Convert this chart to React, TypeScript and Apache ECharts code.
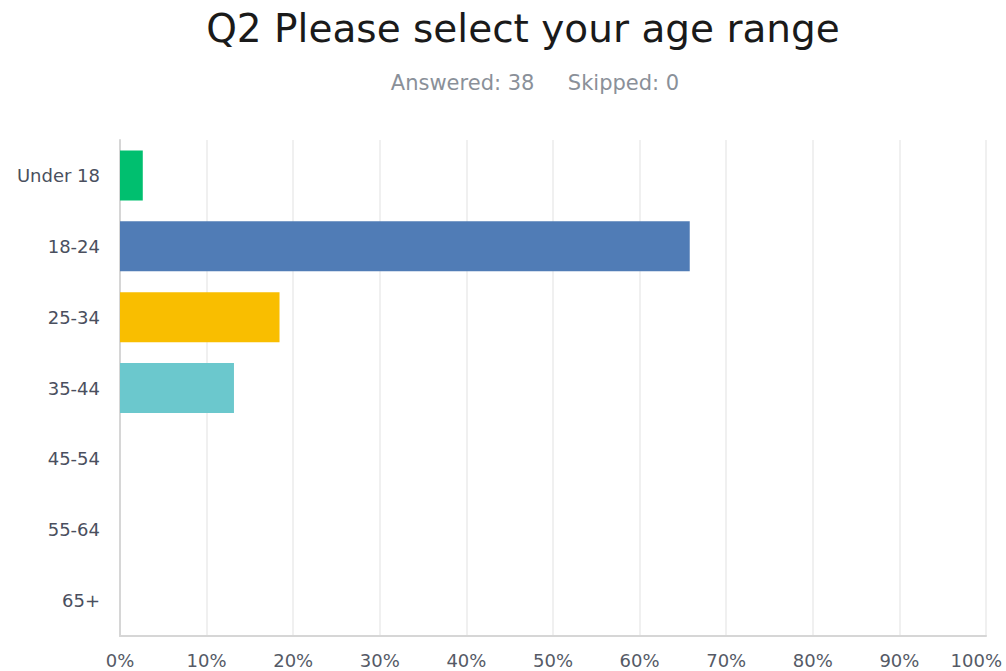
import React, { useEffect, useRef } from "react";
import * as echarts from "echarts";

const categories = ["Under 18", "18-24", "25-34", "35-44", "45-54", "55-64", "65+"];
const percentages = [2.63, 65.79, 18.42, 13.16, 0, 0, 0];
const barColors = ["#00bf6f", "#507cb6", "#f9be00", "#6bc8cd", "#d25f90", "#dbcd6e", "#a2a6ac"];
const titleText = "Q2 Please select your age range";
const subText = "Answered: 38     Skipped: 0";

export default function App() {
  const ref = useRef<HTMLDivElement>(null);
  useEffect(() => {
    if (!ref.current) return;
    const chart = echarts.init(ref.current, undefined, { renderer: "svg" });
    chart.setOption({
      animation: false,
      backgroundColor: "#ffffff",
      title: [
        {
          text: titleText,
          left: 518,
          textAlign: "center",
          top: 4,
          textStyle: { fontFamily: "DejaVu Sans, sans-serif", fontSize: 39, fontWeight: "normal", color: "#1a1a1a" },
        },
        {
          text: subText,
          left: 530,
          textAlign: "center",
          top: 67,
          textStyle: { fontFamily: "DejaVu Sans, sans-serif", fontSize: 21, fontWeight: "normal", color: "#8a9099" },
        },
      ],
      grid: { left: 120, right: 20, top: 140, bottom: 35, containLabel: false, outerBoundsMode: "none" },
      xAxis: {
        type: "value",
        min: 0,
        max: 100,
        interval: 10,
        axisLine: { show: true, lineStyle: { color: "#d6d6d6", width: 2 } },
        axisTick: { show: false },
        splitLine: { show: true, lineStyle: { color: "#ebebeb", width: 1.5 } },
        axisLabel: {
          formatter: (v: number) => (v === 100 ? "{m|" + v + "%}" : v + "%"),
          alignMaxLabel: "right",
          margin: 15,
          color: "#555a66",
          fontSize: 18,
          fontFamily: "DejaVu Sans, sans-serif",
          rich: {
            m: { padding: [0, -16, 0, 0], color: "#555a66", fontSize: 18, fontFamily: "DejaVu Sans, sans-serif" },
          },
        },
      },
      yAxis: {
        type: "category",
        data: categories,
        inverse: true,
        axisLine: { show: true, lineStyle: { color: "#d6d6d6", width: 2 } },
        axisTick: { show: false },
        axisLabel: {
          margin: 20,
          color: "#4a4f5e",
          fontSize: 18,
          fontFamily: "DejaVu Sans, sans-serif",
        },
      },
      series: [
        {
          type: "bar",
          barWidth: 50,
          data: percentages.map((v, i) => ({ value: v, itemStyle: { color: barColors[i] } })),
        },
      ],
    });
    return () => chart.dispose();
  }, []);
  return <div ref={ref} style={{ position: "fixed", left: 0, top: 0, width: 1006, height: 671 }} />;
}
